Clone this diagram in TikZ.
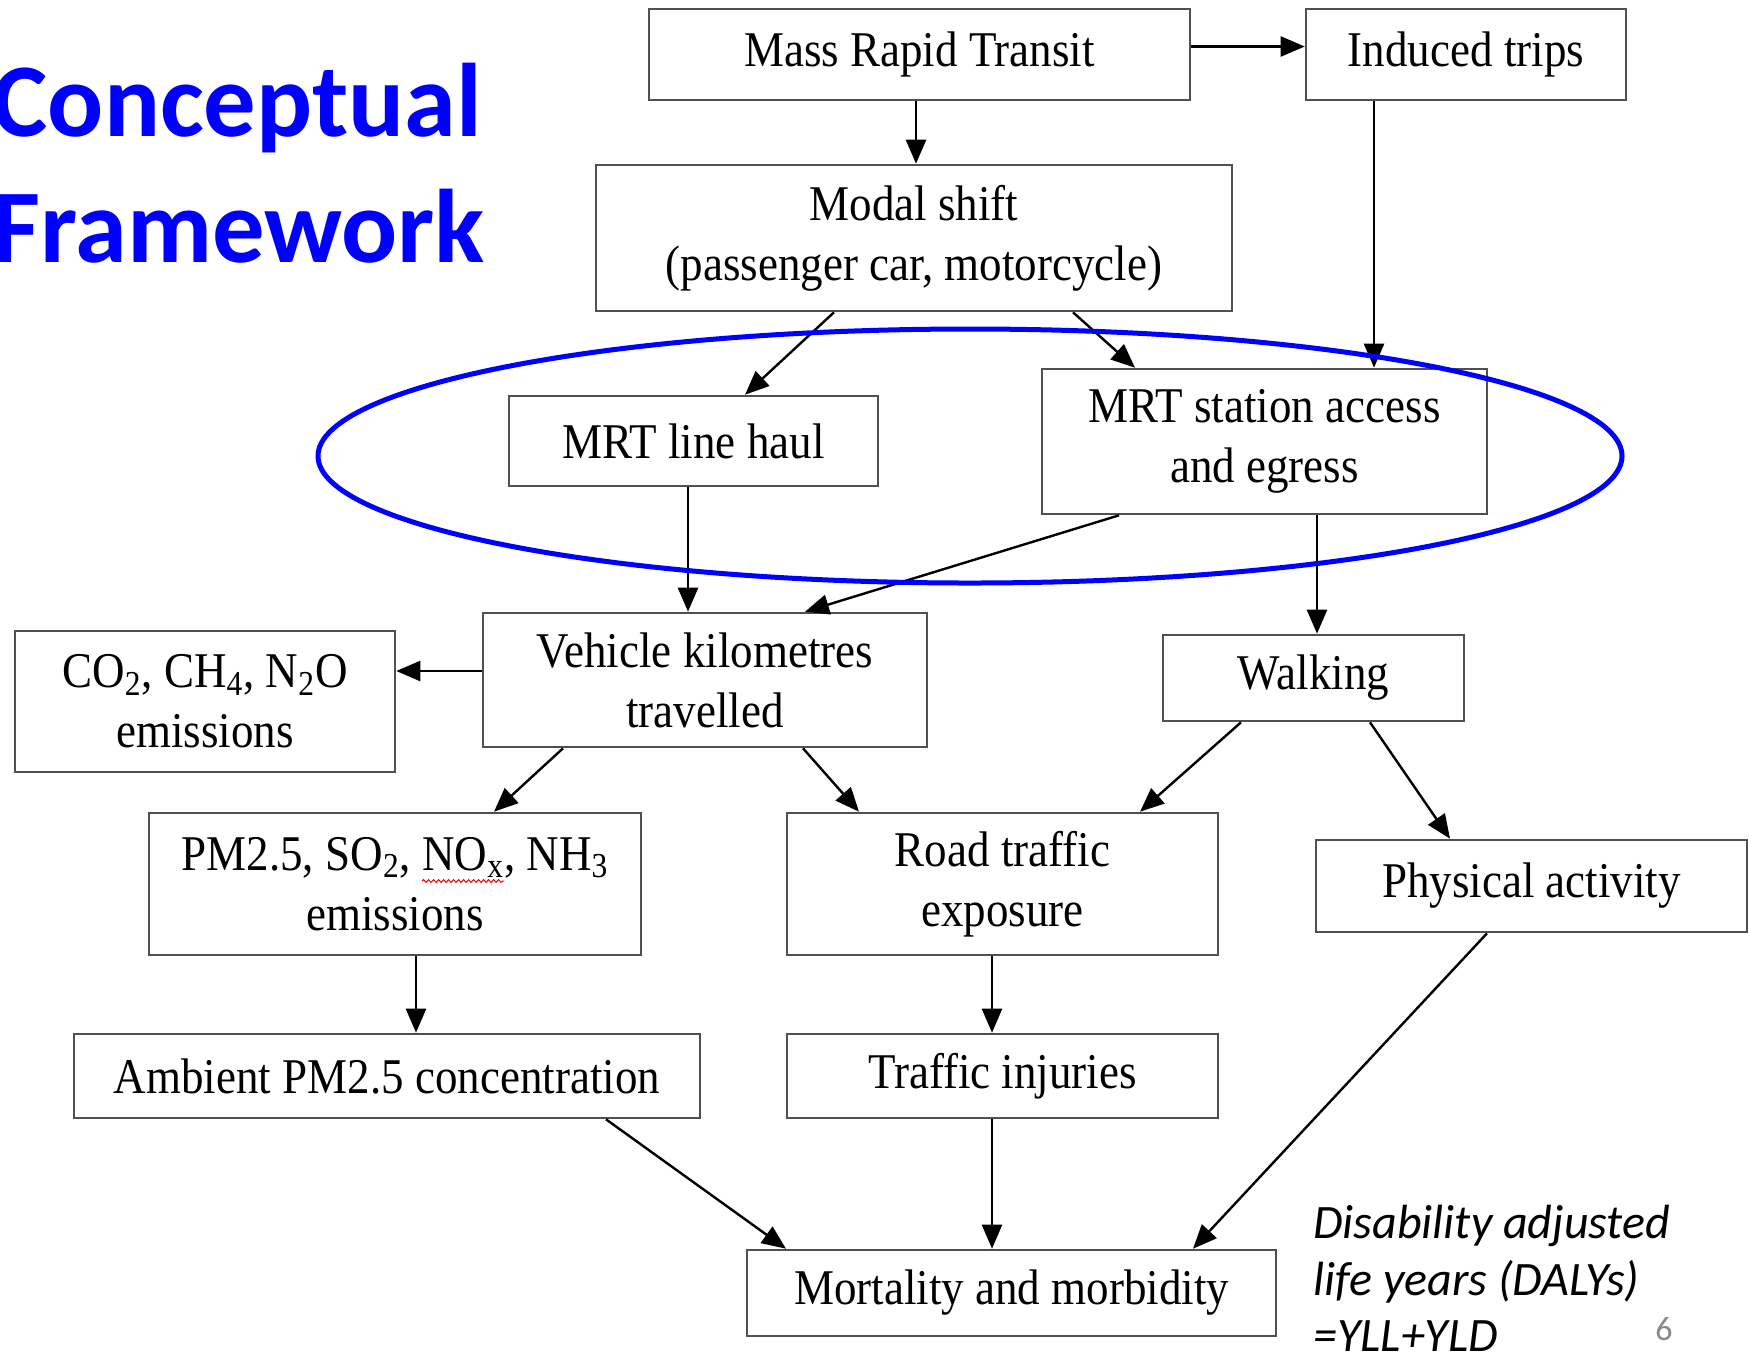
\documentclass[tikz,border=0pt]{standalone}
\usepackage{fontspec}
\setmainfont{Liberation Serif}[FakeStretch=0.9]
\newfontfamily\calfont{Carlito}
\usetikzlibrary{arrows.meta,decorations.pathmorphing,calc}
\definecolor{boxgray}{RGB}{80,80,80}
\definecolor{titleblue}{RGB}{0,0,255}
\definecolor{pgray}{RGB}{137,137,137}
\begin{document}
\begin{tikzpicture}[x=1pt,y=-1pt,
  box/.style={draw=boxgray, line width=1.3pt, fill=white, inner sep=0pt, align=center,
    font=\fontsize{25pt}{30pt}\selectfont, text=black},
  arr/.style={-{Triangle[length=12pt,width=10pt]}, line width=1.2pt, black},
  ttl/.style={font=\calfont\bfseries\fontsize{52.3pt}{60pt}\selectfont, text=titleblue, inner sep=0pt, anchor=base west},
  note/.style={font=\calfont\itshape\fontsize{24pt}{28.5pt}\selectfont, text=black, inner sep=0pt, anchor=base west}]
\useasboundingbox (0,0) rectangle (874.5,678.5);
\clip (0,0) rectangle (874.5,678.5);
\fill[white] (0,0) rectangle (874.5,678.5);

% title
\node[ttl] (t1) at (-4,68) {Conceptual};
\node[ttl] (t2) at (-4,131) {Framework};

% boxes
\node[box, minimum width=270.5pt, minimum height=45.5pt] (mrt) at (459.75,27.25) {Mass Rapid Transit};
\node[box, minimum width=160pt, minimum height=45.5pt] (ind) at (733,27.25) {Induced trips};
\node[box, minimum width=318pt, minimum height=73pt] (modal) at (457,119) {Modal shift\\(passenger car, motorcycle)};
\node[box, minimum width=184.5pt, minimum height=45pt] (lh) at (346.75,220.5) {MRT line haul};
\node[box, minimum width=222.5pt, minimum height=72.5pt] (st) at (632.25,220.75) {MRT station access\\and egress};
\node[box, minimum width=222pt, minimum height=67pt] (vkt) at (352.5,340) {Vehicle kilometres\\travelled};
\node[box, minimum width=190pt, minimum height=70.5pt] (ghg) at (102.5,350.75) {CO\textsubscript{2}, CH\textsubscript{4}, N\textsubscript{2}O\\emissions};
\node[box, minimum width=150.5pt, minimum height=43pt] (walk) at (656.75,339) {Walking};
\node[box, minimum width=246pt, minimum height=71pt] (pm) at (197.5,442) {PM2.5, SO\textsubscript{2}, NO\textsubscript{x}, NH\textsubscript{3}\\emissions};
\node[box, minimum width=215.5pt, minimum height=71pt] (road) at (501.25,442) {Road traffic\\exposure};
\node[box, minimum width=215.5pt, minimum height=46pt] (pa) at (765.75,443) {Physical activity};
\node[box, minimum width=313pt, minimum height=42pt] (amb) at (193.5,538) {Ambient PM2.5 concentration};
\node[box, minimum width=215.5pt, minimum height=42pt] (inj) at (501.25,538) {Traffic injuries};
\node[box, minimum width=264.5pt, minimum height=43pt] (mort) at (505.75,646.5) {Mortality and morbidity};

% spell-check underline
\coordinate (w1) at (211,440.5);
\coordinate (w2) at (252,440.5);
\draw[red, line width=0.5pt, decorate, decoration={snake, amplitude=0.7pt, segment length=2.5pt}] (w1) -- (w2);

% connectors
\draw[arr] ([yshift=4pt]mrt.east) -- ([yshift=4pt]ind.west);
\draw[arr] ([xshift=-1.75pt]mrt.south) -- ([xshift=-1.75pt]mrt.south |- modal.north);
\draw[arr] ([xshift=-46pt]ind.south) -- ([xshift=-46pt]ind.south |- st.north);
\draw[arr] ([xshift=-40pt]modal.south) -- ([xshift=25.75pt]lh.north);
\draw[arr] ([xshift=79.5pt]modal.south) -- ([xshift=-64.75pt]st.north);
\draw[arr] ([xshift=-2.75pt]lh.south) -- ([xshift=-2.75pt]lh.south |- vkt.north);
\draw[arr] ([xshift=-72.75pt]st.south) -- ([xshift=50pt]vkt.north);
\draw[arr] ([xshift=26.25pt]st.south) -- ([xshift=26.25pt]st.south |- walk.north);
\draw[arr] ([yshift=4.5pt]vkt.west) -- ([yshift=4.5pt]vkt.west -| ghg.east);
\draw[arr] ([xshift=-71pt]vkt.south) -- ([xshift=49.5pt]pm.north);
\draw[arr] ([xshift=49pt]vkt.south) -- ([xshift=-71.75pt]road.north);
\draw[arr] ([xshift=-36.25pt]walk.south) -- ([xshift=68.75pt]road.north);
\draw[arr] ([xshift=28.25pt]walk.south) -- ([xshift=-40.75pt]pa.north);
\draw[arr] ([xshift=10.5pt]pm.south) -- ([xshift=10.5pt]pm.south |- amb.north);
\draw[arr] ([xshift=-5.25pt]road.south) -- ([xshift=-5.25pt]road.south |- inj.north);
\draw[arr] ([xshift=109.5pt]amb.south) -- ([xshift=-112.75pt]mort.north);
\draw[arr] ([xshift=-5.25pt]inj.south) -- ([xshift=-5.25pt]inj.south |- mort.north);
\draw[arr] ([xshift=-22.25pt]pa.south) -- ([xshift=90.75pt]mort.north);

% highlight ellipse
\draw[titleblue, line width=2.5pt] (485,228) ellipse [x radius=326pt, y radius=63.5pt];

% notes
\node[note] (n1) at (656.5,619) {Disability adjusted};
\node[note] (n2) at (656.5,647.5) {life years (DALYs)};
\node[note] (n3) at (656.5,675.5) {=YLL+YLD};
\node[font=\calfont\fontsize{17pt}{20pt}\selectfont, text=pgray, inner sep=0pt] (pg) at (832,664.5) {6};
\end{tikzpicture}
\end{document}
